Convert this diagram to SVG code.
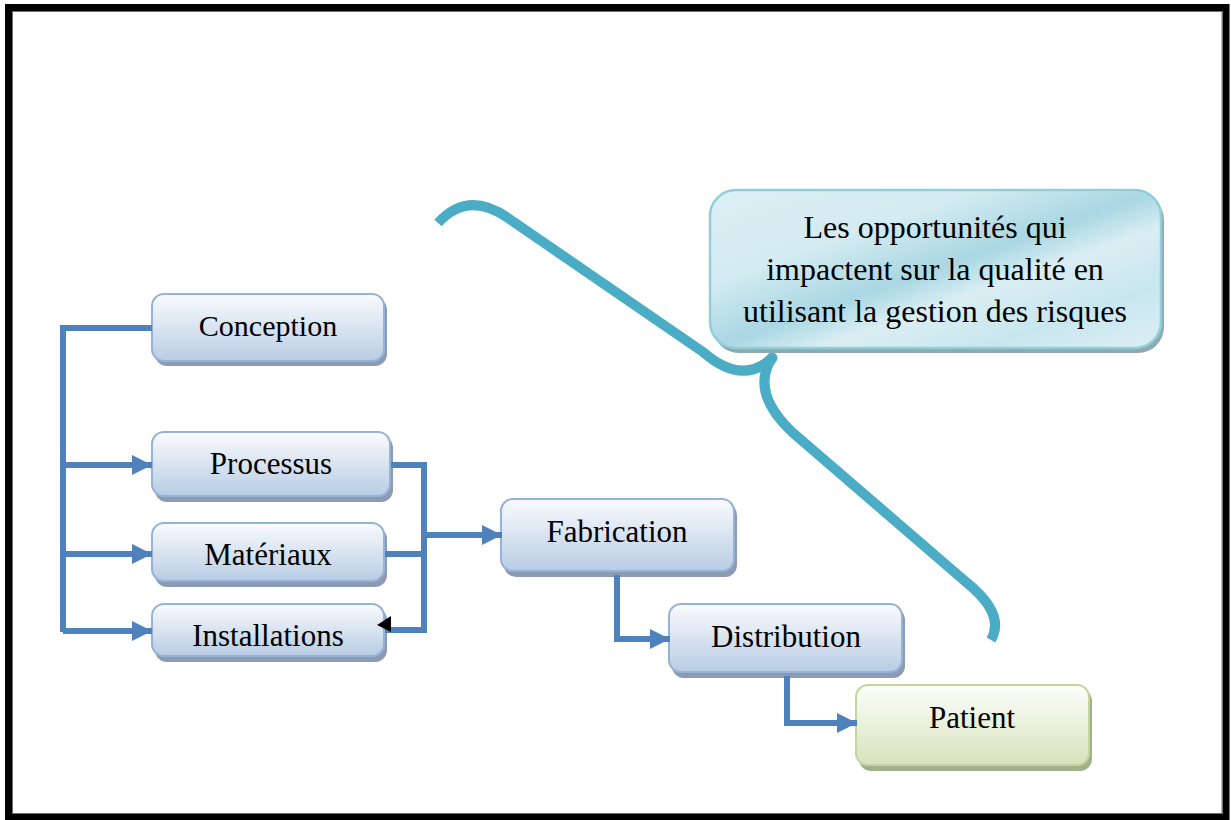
<svg xmlns="http://www.w3.org/2000/svg" width="1231" height="820" viewBox="0 0 1231 820">
  <defs>
    <linearGradient id="gBlue" x1="0" y1="0" x2="0" y2="1">
      <stop offset="0" stop-color="#FAFBFD"/>
      <stop offset="1" stop-color="#B8CCE4"/>
    </linearGradient>
    <linearGradient id="gGreen" x1="0" y1="0" x2="0" y2="1">
      <stop offset="0" stop-color="#FDFEFB"/>
      <stop offset="1" stop-color="#D6E3BC"/>
    </linearGradient>
    <linearGradient id="gTeal" x1="0" y1="0" x2="1" y2="1">
      <stop offset="0" stop-color="#DDEFF4"/>
      <stop offset="0.3" stop-color="#D3EBF1"/>
      <stop offset="0.5" stop-color="#A9D7E3"/>
      <stop offset="0.62" stop-color="#DAEEF3"/>
      <stop offset="0.8" stop-color="#C9E6EE"/>
      <stop offset="1" stop-color="#DCEFF4"/>
    </linearGradient>
    <marker id="arrow" viewBox="0 0 10 10" refX="10" refY="5" markerWidth="3.4" markerHeight="3.4" markerUnits="strokeWidth" orient="auto">
      <path d="M0,0 L10,5 L0,10 Z" fill="#4F81BD"/>
    </marker>
  </defs>
  <style>
    .box { fill: url(#gBlue); stroke: #95B3D7; stroke-width: 2; }
    .shadow { fill: #8C9BB3; }
    .gbox { fill: url(#gGreen); stroke: #C3D69B; stroke-width: 2; }
    .gshadow { fill: #A4B08C; }
    .label { font-family: "Liberation Serif", "Times New Roman", serif; font-size: 31px; fill: #000; text-anchor: middle; }
    .conn { fill: none; stroke: #4F81BD; stroke-width: 6; stroke-linejoin: miter; }
    .brace { fill: none; stroke: #4BACC6; stroke-width: 10; stroke-linecap: butt; stroke-linejoin: round; }
  </style>

  <rect width="1231" height="820" fill="#FFFFFF"/>
  <!-- page frame -->
  <rect x="8.5" y="7.5" width="1217.5" height="810" fill="none" stroke="#000" stroke-width="7"/>
  <rect x="12.5" y="11.5" width="1209.5" height="802" fill="none" stroke="#6E6E6E" stroke-width="1"/>

  <!-- brace linking the risk callout to the chain -->
  <g id="brace">
    <path class="brace" d="M438,223 Q468,190 508,218 L703,352 Q742,386 772,358"/>
    <path class="brace" d="M772,358 Q750,392 792,432 L966,582 Q1006,614 991,640"/>
    <circle cx="772" cy="358" r="5.5" fill="#4BACC6"/>
  </g>

  <g id="conception">
    <rect class="shadow" x="155" y="298" width="232" height="68" rx="12"/>
    <rect class="box" x="152" y="294" width="232" height="67" rx="12"/>
    <text class="label" x="268" y="336" style="font-size:30px">Conception</text>
  </g>
  <g id="processus">
    <rect class="shadow" x="155" y="436" width="238" height="66" rx="12"/>
    <rect class="box" x="152" y="432" width="238" height="64" rx="12"/>
    <text class="label" x="271" y="474">Processus</text>
  </g>
  <g id="materiaux">
    <rect class="shadow" x="155" y="527" width="232" height="60" rx="12"/>
    <rect class="box" x="152" y="523" width="232" height="58" rx="12"/>
    <text class="label" x="268" y="565">Matériaux</text>
  </g>
  <g id="installations">
    <rect class="shadow" x="155" y="608" width="232" height="54" rx="12"/>
    <rect class="box" x="152" y="604" width="232" height="52" rx="12"/>
    <text class="label" x="268" y="646">Installations</text>
  </g>
  <g id="fabrication">
    <rect class="shadow" x="504" y="503" width="233" height="74" rx="12"/>
    <rect class="box" x="501" y="499" width="233" height="72" rx="12"/>
    <text class="label" x="617" y="542">Fabrication</text>
  </g>
  <g id="distribution">
    <rect class="shadow" x="672" y="608" width="233" height="70" rx="12"/>
    <rect class="box" x="669" y="604" width="233" height="68" rx="12"/>
    <text class="label" x="786" y="647">Distribution</text>
  </g>
  <g id="patient">
    <rect class="gshadow" x="859" y="689" width="233" height="82" rx="12"/>
    <rect class="gbox" x="856" y="685" width="233" height="80" rx="12"/>
    <text class="label" x="972" y="728">Patient</text>
  </g>
  <g id="callout">
    <rect x="713" y="194" width="451" height="159" rx="26" fill="#8FA9B0"/>
    <rect x="710" y="190" width="451" height="158" rx="26" fill="url(#gTeal)" stroke="#92CDDC" stroke-width="2.5"/>
    <text class="label" x="935" y="238" style="font-size:32px">Les opportunités qui</text>
    <text class="label" x="935" y="280" style="font-size:32px">impactent sur la qualité en</text>
    <text class="label" x="935" y="322" style="font-size:32px">utilisant la gestion des risques</text>
  </g>

  <g id="connectors">
    <path class="conn" d="M152,328 H63 V632"/>
    <path class="conn" d="M63,465 H152" marker-end="url(#arrow)"/>
    <path class="conn" d="M63,554 H152" marker-end="url(#arrow)"/>
    <path class="conn" d="M63,631 H152" marker-end="url(#arrow)"/>
    <path class="conn" d="M391,465 H424 V630 H385"/>
    <path class="conn" d="M385,554 H424"/>
    <path class="conn" d="M424,535 H502" marker-end="url(#arrow)"/>
    <path class="conn" d="M617,575 V639 H670" marker-end="url(#arrow)"/>
    <path class="conn" d="M787,676 V723 H857" marker-end="url(#arrow)"/>
    <path d="M377,625 L391,616 L391,632 Z" fill="#000"/>
  </g>
</svg>
